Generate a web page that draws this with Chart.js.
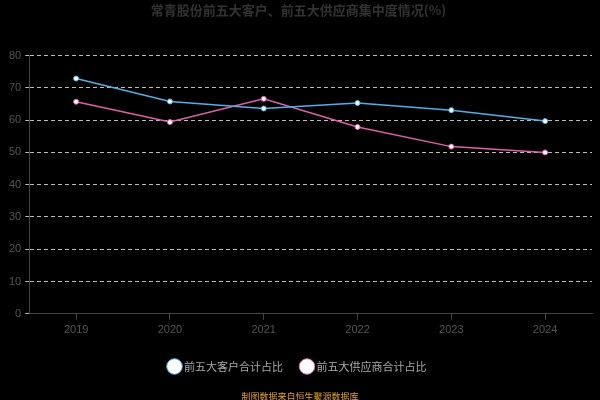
<!DOCTYPE html><html><head><style>body{margin:0;background:#000}</style>
<script src="https://cdn.jsdelivr.net/npm/chart.js"></script></head><body><canvas id="c" width="600" height="400"></canvas>
<script>
const categories=['2019','2020','2021','2022','2023','2024'];
const customers=[72.9,65.8,63.6,65.3,63.1,59.7];
const suppliers=[65.7,59.4,66.6,57.9,51.8,50.0];
const yTicks=[0,10,20,30,40,50,60,70,80];
const footer={id:'f',afterDraw(c){const x=c.ctx;x.save();x.font='9px "Noto Sans CJK SC"';x.fillStyle='#e0a030';x.textAlign='center';x.fillText('制图数据来自恒生聚源数据库',300,397);x.restore();}};
new Chart(document.getElementById('c'),{type:'line',data:{labels:categories,datasets:[
{label:'前五大客户合计占比',data:customers,borderColor:'#4fb0e8',backgroundColor:'#fff',pointBorderColor:'#4fb0e8',borderWidth:1.5,pointRadius:2.5,pointBorderWidth:1},
{label:'前五大供应商合计占比',data:suppliers,borderColor:'#e060a8',backgroundColor:'#fff',pointBorderColor:'#e060a8',borderWidth:1.5,pointRadius:2.5,pointBorderWidth:1}]},
options:{responsive:false,animation:false,devicePixelRatio:1,layout:{padding:{left:5,right:8,top:0,bottom:18}},
plugins:{title:{display:true,text:'常青股份前五大客户、前五大供应商集中度情况(%)',color:'#333',font:{size:13,weight:'bold',family:'"Noto Sans CJK SC"'},padding:{top:2,bottom:38}},
legend:{position:'bottom',labels:{color:'#aaa',usePointStyle:true,pointStyle:'circle',boxWidth:8,padding:20,font:{size:11,family:'"Noto Sans CJK SC"'}}},tooltip:{enabled:false}},
scales:{x:{offset:true,grid:{display:true,drawOnChartArea:false,color:'#444',tickLength:6},border:{color:'#444'},ticks:{color:'#555',font:{size:11},padding:4}},
y:{min:0,max:80,afterBuildTicks:a=>{a.ticks=yTicks.map(v=>({value:v}));},grid:{color:'#bbb',tickLength:4},border:{dash:[4,3],display:true,color:'#444'},ticks:{color:'#555',font:{size:11},padding:4}}}},
plugins:[footer]});
</script></body></html>
